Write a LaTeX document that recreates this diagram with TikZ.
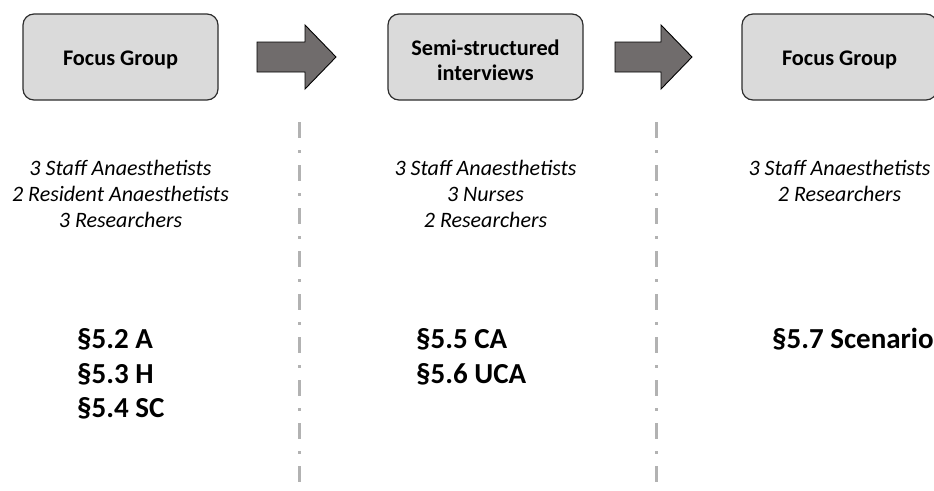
\documentclass[tikz,border=0pt]{standalone}
\usepackage{fontspec}
\setmainfont{Carlito}
\definecolor{boxfill}{RGB}{218,218,218}
\definecolor{boxline}{RGB}{45,45,45}
\definecolor{arrowfill}{RGB}{112,108,108}
\definecolor{divcol}{RGB}{178,178,178}
% set a title so that its first baseline lies #1 below the box centre
\newcommand\stagetitle[2]{\raisebox{-#1}[0pt][0pt]{\begin{tabular}[t]{@{}c@{}}#2\end{tabular}}}
\begin{document}
\begin{tikzpicture}[x=1pt,y=-1pt,
  stage/.style={draw=boxline, line width=1.2pt, fill=boxfill, rounded corners=11pt,
    minimum width=195pt, minimum height=86pt, inner sep=0pt,
    font=\bfseries\fontsize{22.3}{25}\selectfont},
  flowarrow/.style={draw=black, line width=0.9pt, fill=arrowfill, line join=miter},
  divider/.style={draw=divcol, line width=3pt, dash pattern=on 16pt off 12pt on 3pt off 12pt},
  people/.style={anchor=base, inner sep=0pt, font=\itshape\fontsize{22}{26}\selectfont},
  section/.style={anchor=base west, inner sep=0pt, font=\bfseries\fontsize{29}{34}\selectfont}]
\useasboundingbox (0,0) rectangle (934,490);
\clip (0,0) rectangle (934,490);

% stage boxes
\node[stage] (fg1) at (120.5,57) {\stagetitle{8.7pt}{Focus Group}};
\node[stage] (ssi) at (485.5,57) {\stagetitle{-2pt}{Semi-structured\\interviews}};
\node[stage] (fg2) at (839.5,57) {\stagetitle{8.7pt}{Focus Group}};

% block arrows between stages
\draw[flowarrow] (257,42) -- (305,42) -- (305,25) -- (336,57) -- (305,89) -- (305,72) -- (257,72) -- cycle;
\draw[flowarrow] (615,42) -- (661,42) -- (661,25) -- (692,57) -- (661,89) -- (661,72) -- (615,72) -- cycle;

% dash-dot separators
\coordinate (d1t) at (299,122);
\coordinate (d1b) at (299,492);
\coordinate (d2t) at (656,122);
\coordinate (d2b) at (656,492);
\draw[divider] (d1t) -- (d1b);
\draw[divider] (d2t) -- (d2b);

% participants
\node[people] (p11) at (120.5,175) {3 Staff Anaesthetists};
\node[people] (p12) at (120.5,201) {2 Resident Anaesthetists};
\node[people] (p13) at (120.5,227) {3 Researchers};
\node[people] (p21) at (485.5,175) {3 Staff Anaesthetists};
\node[people] (p22) at (485.5,201) {3 Nurses};
\node[people] (p23) at (485.5,227) {2 Researchers};
\node[people] (p31) at (839.5,175) {3 Staff Anaesthetists};
\node[people] (p32) at (839.5,201) {2 Researchers};

% thesis sections
\node[section] (s52) at (77,348) {§5.2 A};
\node[section] (s53) at (77,383) {§5.3 H};
\node[section] (s54) at (77,417) {§5.4 SC};
\node[section] (s55) at (416,348) {§5.5 CA};
\node[section] (s56) at (416,383) {§5.6 UCA};
\node[section] (s57) at (772,348) {§5.7 Scenario};
\end{tikzpicture}
\end{document}
